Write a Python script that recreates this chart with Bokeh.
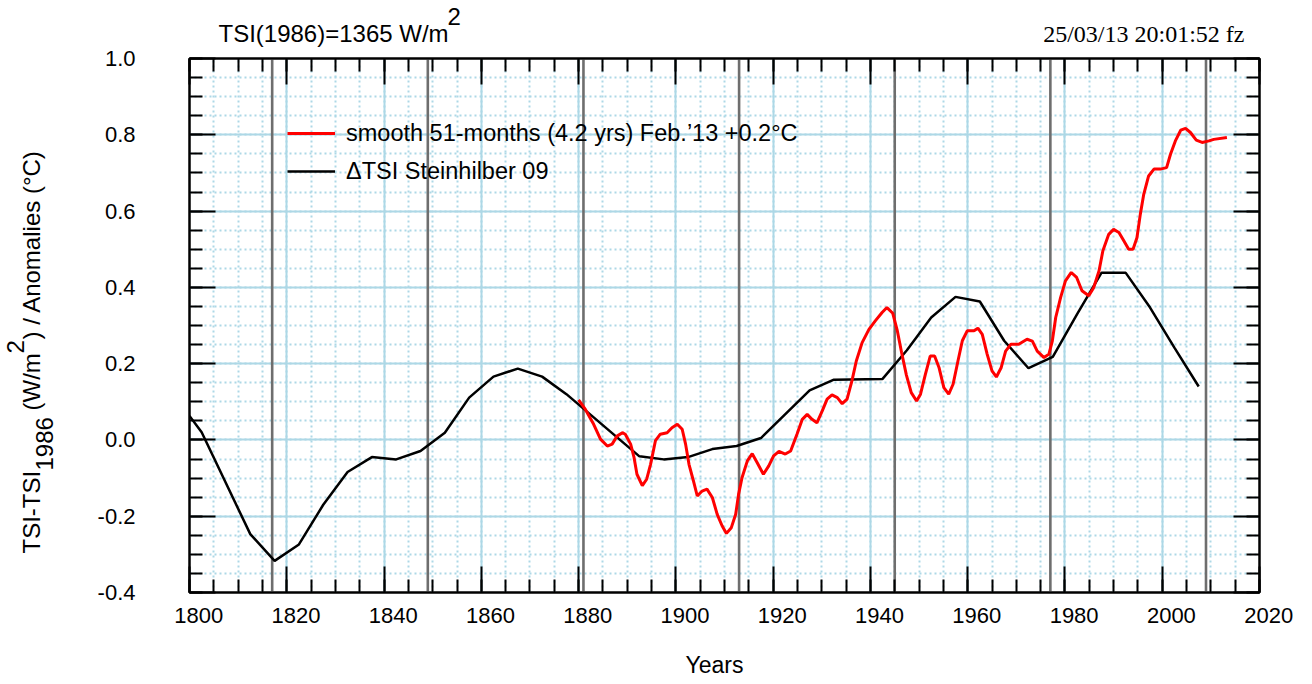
from bokeh.plotting import figure
from bokeh.models import (Range1d, FixedTicker, LinearAxis, CustomJSTickFormatter,
                          Span, Legend, LegendItem, Title)
from bokeh.embed import file_html
from bokeh.resources import INLINE

# ---------------- data ----------------
tsi_years = [1800, 1802.5, 1812.5, 1817.5, 1822.5, 1827.5, 1832.5, 1837.5, 1842.5,
             1847.5, 1852.5, 1857.5, 1862.5, 1867.5, 1872.5, 1877.5, 1892.5, 1897.5,
             1902.5, 1907.5, 1912.5, 1917.5, 1927.5, 1932.5, 1942.5, 1947.5, 1952.5,
             1957.5, 1962.5, 1967.5, 1972.5, 1977.5, 1982.5, 1987.5, 1992.5, 1997.5,
             2002.5, 2007.5]
tsi_values = [0.063, 0.020, -0.247, -0.317, -0.274, -0.170, -0.084, -0.045, -0.051,
              -0.029, 0.019, 0.111, 0.166, 0.187, 0.166, 0.120, -0.043, -0.051,
              -0.045, -0.024, -0.016, 0.005, 0.130, 0.158, 0.160, 0.235, 0.321,
              0.375, 0.363, 0.260, 0.188, 0.218, 0.330, 0.438, 0.438, 0.347,
              0.242, 0.140]

temp_years = [1880.0, 1881.4, 1883.1, 1884.5, 1885.9, 1886.9, 1887.9, 1889.0, 1889.6,
              1890.7, 1891.4, 1892.0, 1893.1, 1894.0, 1894.8, 1895.8, 1896.8, 1898.2,
              1899.2, 1900.3, 1901.3, 1902.0, 1902.7, 1903.6, 1904.4, 1905.4, 1906.4,
              1907.5, 1908.5, 1909.5, 1910.4, 1911.4, 1912.3, 1912.9, 1913.6, 1914.7,
              1915.7, 1916.7, 1918.0, 1919.1, 1920.1, 1921.2, 1922.5, 1923.6, 1924.9,
              1926.0, 1927.0, 1928.0, 1929.0, 1930.1, 1931.1, 1932.1, 1933.2, 1934.2,
              1935.2, 1936.2, 1937.1, 1938.3, 1939.7, 1941.0, 1942.4, 1943.4, 1944.6,
              1945.5, 1946.4, 1947.4, 1948.4, 1949.5, 1950.3, 1951.3, 1952.3, 1953.2,
              1954.1, 1955.1, 1956.1, 1957.0, 1958.0, 1958.9, 1959.9, 1961.3, 1962.1,
              1963.0, 1964.0, 1965.0, 1965.9, 1966.9, 1967.8, 1968.9, 1970.5, 1972.2,
              1973.3, 1974.3, 1975.7, 1976.7, 1977.4, 1978.1, 1979.1, 1980.1, 1981.3,
              1982.4, 1983.5, 1984.9, 1985.9, 1987.0, 1987.8, 1989.0, 1990.0, 1991.1,
              1992.1, 1993.1, 1994.0, 1994.8, 1995.5, 1996.2, 1997.2, 1998.3, 1999.6,
              2000.9, 2001.7, 2002.7, 2003.8, 2004.8, 2005.8, 2007.0, 2008.2, 2009.6,
              2010.6, 2013.3]
temp_values = [0.105, 0.080, 0.041, 0.002, -0.016, -0.011, 0.010, 0.019, 0.015,
               -0.011, -0.046, -0.090, -0.120, -0.103, -0.064, -0.002, 0.015, 0.019,
               0.032, 0.041, 0.028, -0.011, -0.064, -0.107, -0.147, -0.134, -0.129,
               -0.151, -0.195, -0.225, -0.245, -0.230, -0.195, -0.142, -0.099, -0.055,
               -0.036, -0.059, -0.090, -0.068, -0.042, -0.030, -0.037, -0.029, 0.015,
               0.054, 0.067, 0.054, 0.045, 0.076, 0.107, 0.118, 0.111, 0.095,
               0.107, 0.155, 0.207, 0.255, 0.290, 0.312, 0.334, 0.347, 0.332,
               0.288, 0.230, 0.170, 0.124, 0.102, 0.120, 0.172, 0.220, 0.220,
               0.190, 0.137, 0.120, 0.146, 0.207, 0.260, 0.286, 0.286, 0.293,
               0.277, 0.225, 0.181, 0.165, 0.190, 0.233, 0.251, 0.251, 0.264,
               0.259, 0.233, 0.216, 0.225, 0.259, 0.321, 0.373, 0.417, 0.439,
               0.426, 0.391, 0.378, 0.399, 0.443, 0.496, 0.539, 0.552, 0.544,
               0.522, 0.500, 0.500, 0.530, 0.592, 0.644, 0.692, 0.710, 0.710,
               0.714, 0.749, 0.784, 0.812, 0.817, 0.806, 0.786, 0.780, 0.784,
               0.788, 0.793]

cycle_years = [1817, 1849, 1881, 1913, 1945, 1977, 2009]

x_ticks = [1800, 1820, 1840, 1860, 1880, 1900, 1920, 1940, 1960, 1980, 2000, 2020]
x_minor = list(range(1800, 2021, 5))
y_ticks = [-0.4, -0.2, 0.0, 0.2, 0.4, 0.6, 0.8, 1.0]
y_minor = [round(-0.4 + 0.05 * i, 2) for i in range(29)]

red_label = "smooth 51-months (4.2 yrs) Feb.\u201913 +0.2\u00b0C"
black_label = "\u0394TSI Steinhilber 09"
top_left_text = "TSI(1986)=1365 W/m"
top_right_text = "25/03/13  20:01:52 fz"
x_title = "Years"
y_title_parts = ["TSI-TSI", "1986", "(W/m", "2", ") / Anomalies (\u00b0C)"]

# ---------------- figure ----------------
SANS = "Liberation Sans"
SERIF = "Liberation Serif"
GRID = "#add8e6"

p = figure(width=1312, height=684, x_range=Range1d(1800, 2020), y_range=Range1d(-0.4, 1.0),
           output_backend="svg", toolbar_location=None,
           min_border_left=189, min_border_right=53, min_border_top=58, min_border_bottom=92,
           background_fill_color="white", border_fill_color="white")
p.outline_line_color = "black"
p.outline_line_width = 2

xt = FixedTicker(ticks=x_ticks, minor_ticks=x_minor)
yt = FixedTicker(ticks=y_ticks, minor_ticks=y_minor)


def style_axis(ax, labels=True):
    ax.major_tick_in = 26
    ax.major_tick_out = 0
    ax.minor_tick_in = 13
    ax.minor_tick_out = 0
    ax.axis_line_width = 2
    ax.axis_line_color = "black"
    ax.major_tick_line_width = 2
    ax.minor_tick_line_width = 2
    ax.major_tick_line_color = "black"
    ax.minor_tick_line_color = "black"
    ax.major_label_text_font = SANS
    ax.major_label_text_font_size = "22px"
    ax.major_label_text_color = "black"
    if not labels:
        ax.formatter = CustomJSTickFormatter(code="return ''")
        ax.major_label_text_font_size = "1px"
        ax.major_label_standoff = 0


p.xaxis.ticker = xt
p.yaxis.ticker = yt
# the original draws the year labels a little to the right of their ticks
p.xaxis.formatter = CustomJSTickFormatter(code="return '\\u00a0\\u00a0\\u00a0' + tick.toFixed(0)")
p.yaxis.formatter = CustomJSTickFormatter(code="return tick.toFixed(1)")
style_axis(p.xaxis[0])
style_axis(p.yaxis[0])
p.xaxis.major_label_standoff = 10
p.yaxis.major_label_standoff = 54

ax_r = LinearAxis(ticker=yt)
style_axis(ax_r, labels=False)
p.add_layout(ax_r, "right")
ax_t = LinearAxis(ticker=xt)
style_axis(ax_t, labels=False)
p.add_layout(ax_t, "above")

for g, t in ((p.xgrid, xt), (p.ygrid, yt)):
    g.ticker = t
    g.grid_line_color = GRID
    g.grid_line_width = 2
    g.minor_grid_line_color = GRID
    g.minor_grid_line_width = 2
    g.minor_grid_line_dash = "2 3"

for yr in cycle_years:
    p.add_layout(Span(location=yr, dimension="height", line_color="#6e6e6e",
                      line_width=2.6, level="underlay"))

r_blk = p.line(tsi_years, tsi_values, line_color="black", line_width=2.5)
r_red = p.line(temp_years, temp_values, line_color="#ff0000", line_width=3)

legend = Legend(items=[LegendItem(label=red_label, renderers=[r_red]),
                       LegendItem(label=black_label, renderers=[r_blk])],
                location=(98, 404), background_fill_alpha=0, border_line_alpha=0,
                padding=0, margin=0, spacing=4, glyph_width=48, glyph_height=34,
                label_height=34, label_standoff=11, label_text_font=SANS,
                label_text_font_size="23.5px", label_text_color="black")
p.add_layout(legend)


# ---- texts outside the frame: titles stacked in the side panels ----
def spacer(place, width):
    p.add_layout(Title(text="\u00a0", text_font_size="1px", standoff=int(round(width - 3)),
                       vertical_align="middle"), place)


def ttl(place, text, align, offset, size=24, font=SANS, hf=1.117):
    zero = -int(round(2 + hf * size))
    p.add_layout(Title(text=text, align=align, offset=offset, standoff=zero,
                       vertical_align="middle", text_font=font,
                       text_font_size=f"{size}px", text_font_style="normal",
                       text_color="black"), place)


# top row
spacer("above", 24.5)
ttl("above", top_left_text, "left", 29)
ttl("above", top_right_text, "right", 9, font=SERIF, hf=1.107)
spacer("above", 16.8)
ttl("above", "2", "left", 258)

# bottom title
spacer("below", 34)
ttl("below", x_title, "left", 496, size=23)

# left (rotated) title with subscript / superscript
spacer("left", 50.3)
ttl("left", y_title_parts[1], "left", 122)
spacer("left", 13)
ttl("left", y_title_parts[0], "left", 39)
ttl("left", y_title_parts[2], "left", 182)
ttl("left", y_title_parts[4], "left", 253)
spacer("left", 16)
ttl("left", y_title_parts[3], "left", 239)

open("out.html", "w").write(file_html(p, INLINE))
